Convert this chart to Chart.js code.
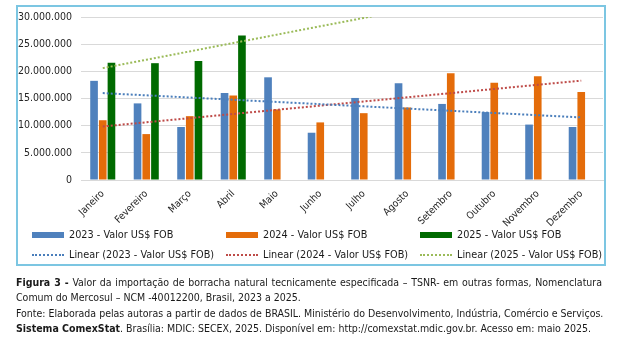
<!DOCTYPE html>
<html>
<head>
<meta charset="utf-8">
<script src="https://cdn.jsdelivr.net/npm/chart.js@4.4.0/dist/chart.umd.min.js"></script>
<style>
    body { margin: 0; background: #fff; width: 622px; height: 354px; position: relative; overflow: hidden;
           font-family: "DejaVu Sans Condensed", "DejaVu Sans", sans-serif; color: #1a1a1a; }
    #box { position: absolute; left: 16px; top: 5px; width: 586px; height: 257px; border: 2px solid #7cc6e2; }
    #wrap { position: absolute; left: 0; top: 0; width: 586px; height: 222px; }
    .leg { position: absolute; font-size: 10.8px; line-height: 12px; white-space: nowrap; }
    .sw { position: absolute; width: 32px; }
    #caption { position: absolute; left: 16px; top: 275px; width: 586px; font-size: 10.5px; line-height: 15.3px; }
    #caption div { white-space: nowrap; }
    #caption .just { text-align: justify; text-align-last: justify; }
</style>
</head>
<body>
<div id="box">
    <div id="wrap"><canvas id="myChart"></canvas></div>
    <div id="legend"></div>
</div>
<div id="caption">
    <div class="just"><b>Figura 3 -</b> Valor da importação de borracha natural tecnicamente especificada – TSNR- em outras formas, Nomenclatura</div>
    <div>Comum do Mercosul – NCM -40012200, Brasil, 2023 a 2025.</div>
    <div>Fonte: Elaborada pelas autoras a partir de dados de BRASIL. Ministério do Desenvolvimento, Indústria, Comércio e Serviços.</div>
    <div><b>Sistema ComexStat</b>. Brasília: MDIC: SECEX, 2025. Disponível em: http://comexstat.mdic.gov.br. Acesso em: maio 2025.</div>
</div>
<script>
var months = ['Janeiro', 'Fevereiro', 'Março', 'Abril', 'Maio', 'Junho', 'Julho', 'Agosto', 'Setembro', 'Outubro', 'Novembro', 'Dezembro'];

var valor2023 = [18250000, 14100000, 9750000, 16000000, 18900000, 8700000, 15100000, 17800000, 14000000, 12500000, 10200000, 9750000];
var valor2024 = [11000000, 8450000, 11750000, 15550000, 13000000, 10600000, 12300000, 13350000, 19650000, 17900000, 19100000, 16200000];
var valor2025 = [21600000, 21500000, 21900000, 26600000, null, null, null, null, null, null, null, null];

var yTicks = [0, 5000000, 10000000, 15000000, 20000000, 25000000, 30000000];

var seriesNames = ['2023 - Valor US$ FOB', '2024 - Valor US$ FOB', '2025 - Valor US$ FOB'];
var barColors = ['#4f81bd', '#e46c0a', '#006a00'];
var trendColors = ['#4a7ebb', '#be4b48', '#9bbb59'];

var FONT = '"DejaVu Sans Condensed", "DejaVu Sans", sans-serif';

// excel style linear trendline (least squares over the months that have a value)
function linearTrend(values) {
    var pts = [];
    values.forEach(function (v, i) { if (v !== null) pts.push([i + 1, v]); });
    var n = pts.length;
    var mx = 0, my = 0;
    pts.forEach(function (p) { mx += p[0]; my += p[1]; });
    mx /= n; my /= n;
    var sxy = 0, sxx = 0;
    pts.forEach(function (p) { sxy += (p[0] - mx) * (p[1] - my); sxx += (p[0] - mx) * (p[0] - mx); });
    var slope = sxy / sxx;
    return months.map(function (m, i) { return my + slope * (i + 1 - mx); });
}

function formatBR(v) {
    return String(v).replace(/\B(?=(\d{3})+(?!\d))/g, '.');
}

var allValues = [valor2023, valor2024, valor2025];
var datasets = [];

allValues.forEach(function (vals, k) {
    datasets.push({
        type: 'bar',
        label: seriesNames[k],
        data: vals,
        backgroundColor: barColors[k],
        borderWidth: 0,
        categoryPercentage: 0.6,
        barPercentage: 0.88,
        order: 2
    });
});

allValues.forEach(function (vals, k) {
    datasets.push({
        type: 'line',
        label: 'Linear (' + seriesNames[k] + ')',
        data: linearTrend(vals),
        borderColor: trendColors[k],
        borderWidth: 2,
        borderDash: [2, 2],
        pointRadius: 0,
        fill: false,
        tension: 0,
        order: 1
    });
});

var ctx = document.getElementById('myChart').getContext('2d');

var myChart = new Chart(ctx, {
    type: 'bar',
    data: {
        labels: months,
        datasets: datasets
    },
    options: {
        responsive: true,
        maintainAspectRatio: false,
        animation: false,
        layout: { padding: { top: 10, right: 1, left: 0, bottom: 0 } },
        plugins: {
            legend: { display: false },
            tooltip: { enabled: false }
        },
        scales: {
            x: {
                grid: { display: false, drawTicks: false },
                border: { color: '#d9d9d9' },
                ticks: {
                    minRotation: 45,
                    maxRotation: 45,
                    color: '#262626',
                    padding: 8,
                    font: { family: FONT, size: 10 }
                },
                afterFit: function (scale) { scale.height = 49; }
            },
            y: {
                min: 0,
                max: 30000000,
                afterBuildTicks: function (scale) {
                    scale.ticks = yTicks.map(function (v) { return { value: v }; });
                },
                ticks: {
                    color: '#262626',
                    padding: 9,
                    font: { family: FONT, size: 10.5 },
                    callback: function (v) { return formatBR(v); }
                },
                grid: { color: '#d9d9d9', drawTicks: false },
                border: { display: false },
                afterFit: function (scale) {
                    scale.width = 63;
                    scale.paddingTop = 0;
                    scale.paddingBottom = 0;
                }
            }
        }
    }
});

// legend, laid out in three columns like the original
var legend = document.getElementById('legend');
var colLeft = [14, 208, 402];
allValues.forEach(function (vals, k) {
    var sw = document.createElement('div');
    sw.className = 'sw';
    sw.style.left = colLeft[k] + 'px';
    sw.style.top = '225px';
    sw.style.height = '6px';
    sw.style.background = barColors[k];
    legend.appendChild(sw);

    var t = document.createElement('div');
    t.className = 'leg';
    t.style.left = (colLeft[k] + 37) + 'px';
    t.style.top = '222px';
    t.textContent = seriesNames[k];
    legend.appendChild(t);

    var ln = document.createElement('div');
    ln.className = 'sw';
    ln.style.left = colLeft[k] + 'px';
    ln.style.top = '247px';
    ln.style.height = '0';
    ln.style.borderTop = '2px dotted ' + trendColors[k];
    legend.appendChild(ln);

    var t2 = document.createElement('div');
    t2.className = 'leg';
    t2.style.left = (colLeft[k] + 37) + 'px';
    t2.style.top = '242px';
    t2.textContent = 'Linear (' + seriesNames[k] + ')';
    legend.appendChild(t2);
});
</script>
</body>
</html>
